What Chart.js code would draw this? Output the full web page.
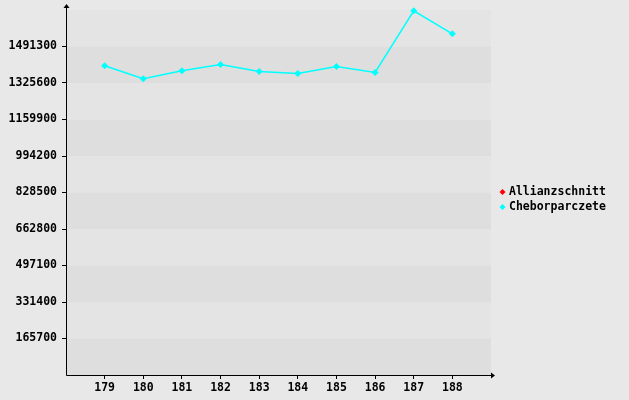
<!DOCTYPE html>
<html>
<head>
<meta charset="utf-8">
<script src="https://cdn.jsdelivr.net/npm/chart.js"></script>
<style>
  html, body { margin: 0; padding: 0; background: #e8e8e8; }
  #wrap { width: 629px; height: 400px; position: relative; }
</style>
</head>
<body>
<div id="wrap"><canvas id="chart"></canvas></div>
<script>
const years = [179, 180, 181, 182, 183, 184, 185, 186, 187, 188];
const allianzschnitt = [];
const cheborparczete = [1403700, 1344700, 1381000, 1409600, 1377800, 1368700, 1400500, 1373300, 1653400, 1549000];
const yTicks = [165700, 331400, 497100, 662800, 828500, 994200, 1159900, 1325600, 1491300];
const yMax = 1657000;
const seriesNames = ["Allianzschnitt", "Cheborparczete"];
const seriesColors = ["#ff0000", "#00ffff"];

const FONT = "bold 11.5px 'DejaVu Sans Mono', monospace";

const toPoints = (vals) => vals.map((v, i) => ({ x: years[i], y: v }));

// alternating bands + axis arrows + legend
const decor = {
    id: "decor",
    beforeDatasetsDraw(chart) {
        const { ctx, chartArea, scales } = chart;
        const y = scales.y;
        ctx.save();
        let idx = 0;
        for (let v = 0; v < yMax; v += 165700) {
            const top = y.getPixelForValue(Math.min(v + 165700, yMax));
            const bot = y.getPixelForValue(v);
            ctx.fillStyle = (idx % 2 === 0) ? "#dedede" : "#e4e4e4";
            ctx.fillRect(chartArea.left, top, chartArea.right - chartArea.left, bot - top);
            idx++;
        }
        ctx.restore();
    },
    afterDraw(chart) {
        const { ctx, chartArea } = chart;
        const l = chartArea.left + 0.5, b = chartArea.bottom + 0.5;
        ctx.save();
        ctx.strokeStyle = "#000";
        ctx.fillStyle = "#000";
        ctx.lineWidth = 1;
        ctx.beginPath();
        ctx.moveTo(l, b);
        ctx.lineTo(l, chartArea.top - 5);
        ctx.moveTo(l, b);
        ctx.lineTo(chartArea.right + 3, b);
        ctx.stroke();
        // arrow heads
        ctx.beginPath();
        ctx.moveTo(l, chartArea.top - 6);
        ctx.lineTo(l - 3, chartArea.top - 2);
        ctx.lineTo(l + 3, chartArea.top - 2);
        ctx.closePath();
        ctx.fill();
        ctx.beginPath();
        ctx.moveTo(chartArea.right + 4, b);
        ctx.lineTo(chartArea.right, b - 3);
        ctx.lineTo(chartArea.right, b + 3);
        ctx.closePath();
        ctx.fill();

        // legend
        ctx.font = FONT;
        ctx.textBaseline = "middle";
        seriesNames.forEach((name, i) => {
            const ly = 192 + i * 15;
            ctx.fillStyle = seriesColors[i];
            ctx.beginPath();
            ctx.moveTo(502.5, ly - 3);
            ctx.lineTo(505.5, ly);
            ctx.lineTo(502.5, ly + 3);
            ctx.lineTo(499.5, ly);
            ctx.closePath();
            ctx.fill();
            ctx.fillStyle = "#000";
            ctx.fillText(name, 509, ly);
        });
        ctx.restore();
    }
};

new Chart(document.getElementById("chart"), {
    type: "line",
    data: {
        datasets: [
            {
                label: seriesNames[0],
                data: toPoints(allianzschnitt),
                borderColor: seriesColors[0],
                backgroundColor: seriesColors[0],
                borderWidth: 1,
                pointStyle: "rectRot",
                pointRadius: 3,
                clip: false
            },
            {
                label: seriesNames[1],
                data: toPoints(cheborparczete),
                borderColor: seriesColors[1],
                backgroundColor: seriesColors[1],
                borderWidth: 1.5,
                pointStyle: "rectRot",
                pointRadius: 3,
                pointBorderWidth: 1,
                tension: 0,
                clip: false
            }
        ]
    },
    options: {
        responsive: true,
        maintainAspectRatio: false,
        animation: false,
        layout: { padding: { top: 10, right: 138, left: 0, bottom: 0 } },
        plugins: {
            legend: { display: false },
            tooltip: { enabled: false }
        },
        scales: {
            x: {
                type: "linear",
                min: 178,
                max: 189,
                afterBuildTicks: (s) => { s.ticks = years.map(v => ({ value: v })); },
                afterFit: (s) => { s.height = 25; s.paddingLeft = 0; s.paddingRight = 0; },
                border: { display: false },
                grid: { drawOnChartArea: false, color: "#000", tickLength: 4 },
                ticks: {
                    color: "#000",
                    font: { family: "'DejaVu Sans Mono', monospace", size: 11.5, weight: "bold" },
                    padding: 2,
                    maxRotation: 0,
                    callback: (v) => String(v)
                }
            },
            y: {
                min: 0,
                max: yMax,
                afterBuildTicks: (s) => { s.ticks = yTicks.map(v => ({ value: v })); },
                afterFit: (s) => { s.width = 66; s.paddingTop = 0; s.paddingBottom = 0; },
                border: { display: false },
                grid: { drawOnChartArea: false, color: "#000", tickLength: 4 },
                ticks: {
                    color: "#000",
                    font: { family: "'DejaVu Sans Mono', monospace", size: 11.5, weight: "bold" },
                    padding: 5,
                    callback: (v) => String(v)
                }
            }
        }
    },
    plugins: [decor]
});
</script>
</body>
</html>
